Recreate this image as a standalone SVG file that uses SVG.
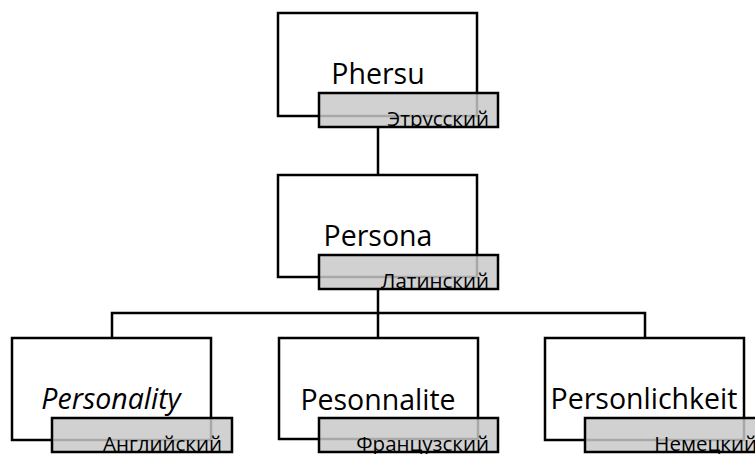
<svg xmlns="http://www.w3.org/2000/svg" width="755" height="454" viewBox="0 0 755 454">
<style>
.box{fill:#ffffff;stroke:#000000;stroke-width:2.5}
.tag{fill:#c8c8c8;fill-opacity:0.84;stroke:#000000;stroke-width:2.5}
.main{font-family:"Open Sans","Noto Sans","DejaVu Sans",sans-serif;font-size:28.5px;fill:#000000;text-anchor:middle}
.lbl{font-family:"Open Sans","Noto Sans","DejaVu Sans",sans-serif;font-size:20.5px;fill:#000000;text-anchor:end}
.conn{fill:none;stroke:#000000;stroke-width:2.5}
</style>
<defs>
<clipPath id="c1"><rect x="318" y="92" width="181" height="36"/></clipPath>
<clipPath id="c2"><rect x="318" y="254" width="181" height="36"/></clipPath>
<clipPath id="c3"><rect x="51" y="417" width="182" height="37"/></clipPath>
<clipPath id="c4"><rect x="318" y="417" width="181" height="37"/></clipPath>
<clipPath id="c5"><rect x="584" y="417" width="181" height="37"/></clipPath>
</defs>
<g id="connectors">
<path class="conn" d="M378 127V175"/>
<path class="conn" d="M378 289V313"/>
<path class="conn" d="M112 338V313H645V338"/>
<path class="conn" d="M378 313V338"/>
</g>
<g id="node-phersu">
<rect class="box" x="278" y="13" width="199" height="103"/>
<text class="main" x="378" y="84">Phersu</text>
<rect class="tag" x="319" y="93" width="179" height="34"/>
<text class="lbl" x="489" y="126" clip-path="url(#c1)">Этрусский</text>
</g>
<g id="node-persona">
<rect class="box" x="278" y="175" width="199" height="102"/>
<text class="main" x="378" y="246">Persona</text>
<rect class="tag" x="319" y="255" width="179" height="34"/>
<text class="lbl" x="489" y="288" clip-path="url(#c2)">Латинский</text>
</g>
<g id="node-personality">
<rect class="box" x="12" y="338" width="199" height="102"/>
<text class="main" x="111" y="409" font-style="italic">Personality</text>
<rect class="tag" x="52" y="418" width="180" height="34"/>
<text class="lbl" x="222" y="451" clip-path="url(#c3)">Английский</text>
</g>
<g id="node-pesonnalite">
<rect class="box" x="279" y="338" width="199" height="101"/>
<text class="main" x="378" y="410">Pesonnalite</text>
<rect class="tag" x="319" y="418" width="179" height="34"/>
<text class="lbl" x="489" y="451" clip-path="url(#c4)">Французский</text>
</g>
<g id="node-personlichkeit">
<rect class="box" x="545" y="338" width="199" height="102"/>
<text class="main" x="644" y="409">Personlichkeit</text>
<rect class="tag" x="585" y="418" width="179" height="34"/>
<text class="lbl" x="757" y="451" clip-path="url(#c5)">Немецкий</text>
</g>
</svg>
